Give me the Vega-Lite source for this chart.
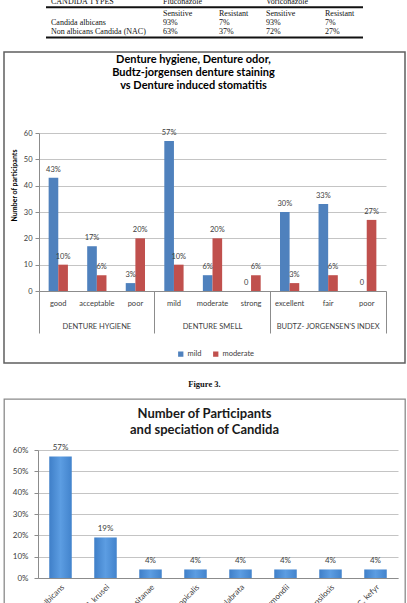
{
  "$schema": "https://vega.github.io/schema/vega-lite/v6.json",
  "padding": {"left": 3, "top": 0, "right": 0, "bottom": 0},
  "spacing": 0,
  "bounds": "flush",
  "center": true,
  "config": {
    "view": {"stroke": null},
    "font": "Lato",
    "axis": {"labelFont": "Lato", "titleFont": "Lato"},
    "legend": {"labelFont": "Lato"}
  },
  "vconcat": [
    {
      "width": 317,
      "height": 52,
      "layer": [
        {
          "data": {
            "values": [
              {"row": 0, "col": 0, "text": "CANDIDA TYPES"},
              {"row": 0, "col": 1, "text": "Fluconazole"},
              {"row": 0, "col": 3, "text": "Voriconazole"},
              {"row": 1, "col": 1, "text": "Sensitive"},
              {"row": 1, "col": 2, "text": "Resistant"},
              {"row": 1, "col": 3, "text": "Sensitive"},
              {"row": 1, "col": 4, "text": "Resistant"},
              {"row": 2, "col": 0, "text": "Candida albicans"},
              {"row": 2, "col": 1, "text": "93%"},
              {"row": 2, "col": 2, "text": "7%"},
              {"row": 2, "col": 3, "text": "93%"},
              {"row": 2, "col": 4, "text": "7%"},
              {"row": 3, "col": 0, "text": "Non albicans Candida (NAC)"},
              {"row": 3, "col": 1, "text": "63%"},
              {"row": 3, "col": 2, "text": "37%"},
              {"row": 3, "col": 3, "text": "72%"},
              {"row": 3, "col": 4, "text": "27%"}
            ]
          },
          "mark": {"type": "text", "align": "left", "baseline": "middle", "font": "Liberation Serif", "fontSize": 8, "color": "#111111", "clip": true},
          "encoding": {
            "x": {"field": "col", "type": "quantitative", "scale": {"domain": [0, 1, 2, 3, 4], "range": [5, 117, 173, 220, 279]}, "axis": null},
            "y": {"field": "row", "type": "quantitative", "scale": {"domain": [0, 1, 2, 3], "range": [1.5, 14.3, 22.7, 32.3]}, "axis": null},
            "text": {"field": "text"}
          }
        },
        {
          "data": {"values": [{"row": 0.45}, {"row": 3.55}]},
          "mark": {"type": "rule", "color": "#111111", "strokeWidth": 2},
          "encoding": {"y": {"field": "row", "type": "quantitative"}}
        }
      ]
    },
    {
      "width": 401,
      "height": 311,
      "view": {"stroke": "#5f5f5f", "strokeWidth": 1.5},
      "title": {
        "text": ["Denture hygiene, Denture odor,", "Budtz-jorgensen denture staining", "vs  Denture induced stomatitis"],
        "font": "Lato", "fontSize": 11, "fontWeight": "bold", "lineHeight": 13, "color": "#000000",
        "anchor": "middle", "dx": -11, "offset": -39
      },
      "data": {
        "values": [
          {"cat": "DENTURE HYGIENE|good", "level": "mild", "value": 43, "label": "43%"},
          {"cat": "DENTURE HYGIENE|good", "level": "moderate", "value": 10, "label": "10%"},
          {"cat": "DENTURE HYGIENE|acceptable", "level": "mild", "value": 17, "label": "17%"},
          {"cat": "DENTURE HYGIENE|acceptable", "level": "moderate", "value": 6, "label": "6%"},
          {"cat": "DENTURE HYGIENE|poor", "level": "mild", "value": 3, "label": "3%"},
          {"cat": "DENTURE HYGIENE|poor", "level": "moderate", "value": 20, "label": "20%"},
          {"cat": "DENTURE SMELL|mild", "level": "mild", "value": 57, "label": "57%"},
          {"cat": "DENTURE SMELL|mild", "level": "moderate", "value": 10, "label": "10%"},
          {"cat": "DENTURE SMELL|moderate", "level": "mild", "value": 6, "label": "6%"},
          {"cat": "DENTURE SMELL|moderate", "level": "moderate", "value": 20, "label": "20%"},
          {"cat": "DENTURE SMELL|strong", "level": "mild", "value": 0, "label": "0"},
          {"cat": "DENTURE SMELL|strong", "level": "moderate", "value": 6, "label": "6%"},
          {"cat": "BUDTZ- JORGENSEN'S INDEX|excellent", "level": "mild", "value": 30, "label": "30%"},
          {"cat": "BUDTZ- JORGENSEN'S INDEX|excellent", "level": "moderate", "value": 3, "label": "3%"},
          {"cat": "BUDTZ- JORGENSEN'S INDEX|fair", "level": "mild", "value": 33, "label": "33%"},
          {"cat": "BUDTZ- JORGENSEN'S INDEX|fair", "level": "moderate", "value": 6, "label": "6%"},
          {"cat": "BUDTZ- JORGENSEN'S INDEX|poor", "level": "mild", "value": 0, "label": "0"},
          {"cat": "BUDTZ- JORGENSEN'S INDEX|poor", "level": "moderate", "value": 27, "label": "27%"}
        ]
      },
      "encoding": {
        "x": {
          "field": "cat", "type": "nominal", "sort": null,
          "scale": {"range": [35, 382], "paddingInner": 0, "paddingOuter": 0},
          "axis": {
            "orient": "bottom", "offset": -72, "title": null,
            "labelExpr": "(datum.index * 8) % 3 == 1 ? [split(datum.label, '|')[1], split(datum.label, '|')[0]] : (datum.index < 0 ? '' : split(datum.label, '|')[1])",
            "labelAngle": 0, "labelFontSize": 7.5, "labelColor": "#404040",
            "labelOverlap": false, "labelBound": false, "labelLineHeight": 23,
            "labelBaseline": "top", "labelPadding": -34,
            "tickSize": 42, "bandPosition": 1, "tickExtra": true,
            "tickColor": "#8c8c8c",
            "tickOpacity": {"condition": {"test": "datum.index < 0 || (datum.index * 8) % 3 == 2", "value": 1}, "value": 0},
            "domainColor": "#8c8c8c", "grid": false
          }
        },
        "y": {
          "field": "value", "type": "quantitative",
          "scale": {"domain": [0, 60], "range": [239, 81], "nice": false, "zero": true},
          "axis": {
            "orient": "left", "offset": -35, "values": [0, 10, 20, 30, 40, 50, 60],
            "title": "Number of participants", "titleFontSize": 7, "titleFontWeight": "bold", "titleColor": "#000000",
            "titleX": -25, "titleY": 133, "titleAngle": -90, "titleAlign": "center", "titleBaseline": "middle",
            "labelFontSize": 7.5, "labelColor": "#404040", "labelPadding": 3,
            "tickSize": 4, "tickColor": "#8c8c8c", "domainColor": "#8c8c8c",
            "grid": true, "gridColor": "#c4c4c4"
          }
        },
        "xOffset": {"field": "level", "type": "nominal", "scale": {"paddingInner": 0, "paddingOuter": 1}}
      },
      "layer": [
        {
          "mark": {"type": "bar"},
          "encoding": {
            "color": {
              "field": "level", "type": "nominal",
              "scale": {"domain": ["mild", "moderate"], "range": ["#4F81BD", "#C0504D"]},
              "legend": {
                "orient": "none", "legendX": 173, "legendY": 350, "direction": "horizontal", "title": null,
                "symbolType": "square", "symbolSize": 28, "symbolStrokeWidth": 0, "symbolOpacity": 1,
                "labelFontSize": 7.5, "labelColor": "#404040", "labelOffset": 3, "columnPadding": 10
              }
            }
          }
        },
        {
          "mark": {"type": "text", "baseline": "bottom", "dy": -4, "fontSize": 7.5, "color": "#404040"},
          "encoding": {"text": {"field": "label"}}
        }
      ]
    },
    {
      "width": 401,
      "height": 36,
      "data": {"values": [{"caption": "Figure 3."}]},
      "mark": {"type": "text", "font": "Liberation Serif", "fontSize": 8.5, "fontWeight": "bold", "color": "#111111", "dy": 3},
      "encoding": {"text": {"field": "caption"}}
    },
    {
      "width": 401,
      "height": 220,
      "view": {"stroke": "#8a8a8a", "strokeWidth": 1.3},
      "title": {
        "text": ["Number of Participants", "and speciation of Candida"],
        "font": "Lato", "fontSize": 13, "fontWeight": "bold", "lineHeight": 16, "color": "#1a1a1a",
        "anchor": "middle", "offset": -38
      },
      "data": {
        "values": [
          {"species": "C. albicans", "pct": 57, "label": "57%"},
          {"species": "C. krusei", "pct": 19, "label": "19%"},
          {"species": "C. lusitanae", "pct": 4, "label": "4%"},
          {"species": "C. tropicalis", "pct": 4, "label": "4%"},
          {"species": "C. glabrata", "pct": 4, "label": "4%"},
          {"species": "C. guilliermondii", "pct": 4, "label": "4%"},
          {"species": "C. parapsilosis", "pct": 4, "label": "4%"},
          {"species": "C. kefyr", "pct": 4, "label": "4%"}
        ]
      },
      "encoding": {
        "x": {
          "field": "species", "type": "nominal", "sort": null,
          "scale": {"range": [34, 394], "paddingInner": 0.5, "paddingOuter": 0.25},
          "axis": {
            "orient": "bottom", "offset": -41, "title": null, "labelAngle": -45,
            "labelFontSize": 8, "labelColor": "#404040", "labelPadding": 5, "ticks": false,
            "domainColor": "#8c8c8c", "labelOverlap": false, "labelBound": false
          }
        },
        "y": {
          "field": "pct", "type": "quantitative",
          "scale": {"domain": [0, 60], "range": [179, 51], "nice": false},
          "axis": {
            "orient": "left", "offset": -34, "values": [0, 10, 20, 30, 40, 50, 60],
            "labelExpr": "datum.value + '%'", "title": null,
            "labelFontSize": 8, "labelColor": "#404040", "labelPadding": 6,
            "tickSize": 4, "tickColor": "#8c8c8c", "domainColor": "#8c8c8c",
            "grid": true, "gridColor": "#c4c4c4"
          }
        }
      },
      "layer": [
        {
          "mark": {
            "type": "bar",
            "color": {
              "gradient": "linear", "x1": 0, "y1": 0, "x2": 1, "y2": 0,
              "stops": [
                {"offset": 0, "color": "#3f7fc8"},
                {"offset": 0.5, "color": "#5c9de2"},
                {"offset": 1, "color": "#4283cc"}
              ]
            }
          }
        },
        {
          "mark": {"type": "text", "baseline": "bottom", "dy": -4, "fontSize": 8, "color": "#404040"},
          "encoding": {"text": {"field": "label"}}
        }
      ]
    }
  ]
}
